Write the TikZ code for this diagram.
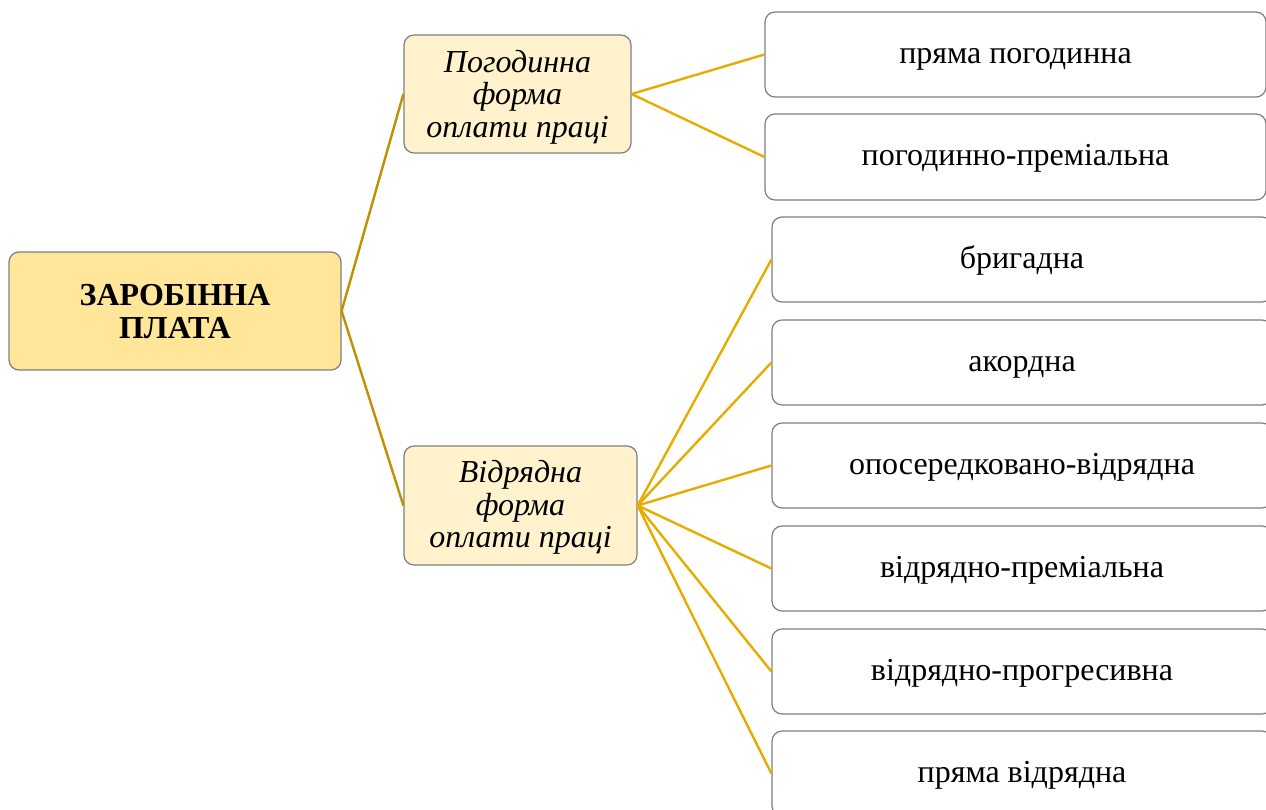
\documentclass[tikz,border=0pt]{standalone}
\usepackage{fontspec}
\setmainfont{Liberation Serif}
\definecolor{rootfill}{HTML}{FFE699}
\definecolor{subfill}{HTML}{FFF2CC}
\definecolor{boxline}{HTML}{7F7F7F}
\definecolor{darkgold}{HTML}{BF9000}
\definecolor{gold}{HTML}{E6AC00}
\newcommand{\stk}[1]{\begin{tabular}[t]{@{}c@{}}#1\end{tabular}}
\tikzset{
  base/.style={draw=boxline, line width=1.2pt, rounded corners=10pt, inner sep=0pt},
  rootbox/.style={base, fill=rootfill, minimum width=332pt, minimum height=118pt},
  subbox/.style={base, fill=subfill, minimum height=118pt},
  leafbox/.style={base, fill=white, minimum width=500pt, minimum height=85pt},
  txt/.style={anchor=base, inner sep=0pt, font=\fontsize{32}{33}\selectfont},
  roottxt/.style={txt, font=\fontsize{32}{33}\selectfont\bfseries},
  subtxt/.style={txt, font=\fontsize{32}{32.5}\selectfont\itshape},
  rootline/.style={draw=darkgold, line width=2.4pt},
  subline/.style={draw=gold, line width=2.4pt}
}
\begin{document}
\begin{tikzpicture}[x=1pt,y=-1pt]
\useasboundingbox (0,0) rectangle (1266,809);
\clip (0,0) rectangle (1266,809);
% boxes
\node[rootbox] (root) at (175,311) {};
\node[subbox, minimum width=227pt] (pog) at (517.5,94) {};
\node[subbox, minimum width=233pt, minimum height=119pt] (vid) at (520.5,505.5) {};
\node[leafbox, minimum width=501pt] (p1) at (1015.5,54.5) {};
\node[leafbox, minimum width=501pt, minimum height=86pt] (p2) at (1015.5,157) {};
\node[leafbox] (v1) at (1022,259.5) {};
\node[leafbox] (v2) at (1022,362.5) {};
\node[leafbox] (v3) at (1022,465.5) {};
\node[leafbox] (v4) at (1022,568.5) {};
\node[leafbox] (v5) at (1022,671.5) {};
\node[leafbox] (v6) at (1022,773.5) {};
% texts
\node[roottxt] (roott) at (175,305) {\stk{ЗАРОБІННА\\ПЛАТА}};
\node[subtxt] (pogt) at (517.5,72) {\stk{Погодинна\\форма\\оплати праці}};
\node[subtxt] (vidt) at (520.5,482.5) {\stk{Відрядна\\форма\\оплати праці}};
\node[txt] (p1t) at (1015.5,63.3) {пряма погодинна};
\node[txt] (p2t) at (1015.5,165.8) {погодинно-преміальна};
\node[txt] (v1t) at (1022,268.3) {бригадна};
\node[txt] (v2t) at (1022,371.3) {акордна};
\node[txt] (v3t) at (1022,474.3) {опосередковано-відрядна};
\node[txt] (v4t) at (1022,577.3) {відрядно-преміальна};
\node[txt] (v5t) at (1022,680.3) {відрядно-прогресивна};
\node[txt] (v6t) at (1022,782.3) {пряма відрядна};
% connectors
\draw[rootline] (root.east) -- (pog.west);
\draw[rootline] (root.east) -- (vid.west);
\draw[subline] (pog.east) -- (p1.west);
\draw[subline] (pog.east) -- (p2.west);
\foreach \n in {v1,v2,v3,v4,v5,v6} {
  \draw[subline] (vid.east) -- (\n.west);
}
\end{tikzpicture}
\end{document}
